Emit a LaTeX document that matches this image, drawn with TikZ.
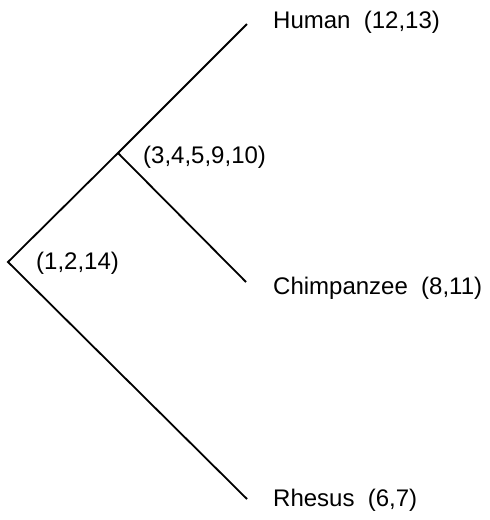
\documentclass[tikz,border=0pt]{standalone}
\usepackage{fontspec}
\setmainfont{Liberation Sans}
\begin{document}
\begin{tikzpicture}[x=1pt,y=-1pt,
  branch/.style={line width=1.8pt,black},
  lbl/.style={font=\fontsize{24}{27}\selectfont,anchor=west,inner sep=0pt}]
\useasboundingbox (0,0) rectangle (490,520);
\coordinate (root) at (8,262);
\coordinate (inner) at (118,153);
\coordinate (human) at (247,24);
\coordinate (chimp) at (246,282);
\coordinate (rhesus) at (247,499);
\draw[branch] (human) -- (inner) -- (root) -- (rhesus);
\draw[branch] (inner) -- (chimp);
\node[lbl] (lh) at (273,22) {Human\ \ (12,13)};
\node[lbl] (lc) at (273,288) {Chimpanzee\ \ (8,11)};
\node[lbl] (lr) at (273,500) {Rhesus\ \ (6,7)};
\node[lbl] (l1) at (36,263) {(1,2,14)};
\node[lbl] (l2) at (143,157) {(3,4,5,9,10)};
\end{tikzpicture}
\end{document}
